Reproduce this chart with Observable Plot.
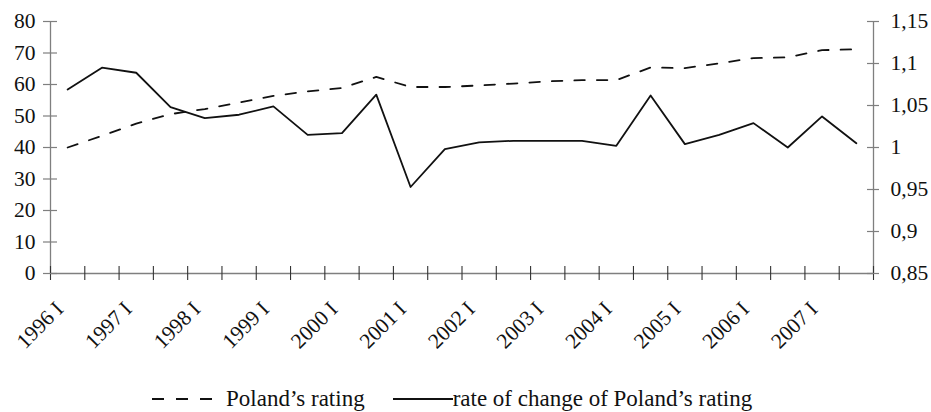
<!DOCTYPE html>
<html>
<head>
<meta charset="utf-8">
<script src="https://cdn.jsdelivr.net/npm/d3@7"></script>
<script src="https://cdn.jsdelivr.net/npm/@observablehq/plot@0.6"></script>
<style>
  html, body { margin: 0; padding: 0; background: #fff; }
  body { font-family: "Liberation Serif", "Times New Roman", "DejaVu Serif", serif; color: #111; }
  #chart svg { display: block; }
  #legend { display: flex; align-items: center; height: 26px; margin-top: 26px; padding-left: 152px;
            font-size: 23px; white-space: nowrap; color: #111; }
  #legend svg { display: block; flex: none; }
</style>
</head>
<body>
<div id="chart"></div>
<div id="legend">
  <svg width="60" height="10"><line x1="0" y1="5" x2="60" y2="5" stroke="#111" stroke-width="1.8" stroke-dasharray="12,12"/></svg>
  <span style="margin-left:14px">Poland’s rating</span>
  <svg width="60" height="10" style="margin-left:28px"><line x1="0" y1="5" x2="60" y2="5" stroke="#111" stroke-width="1.8"/></svg>
  <span>rate of change of Poland’s rating</span>
</div>
<script>
// Half-year periods
const periods = [
  "1996 I","1996 II","1997 I","1997 II","1998 I","1998 II","1999 I","1999 II",
  "2000 I","2000 II","2001 I","2001 II","2002 I","2002 II","2003 I","2003 II",
  "2004 I","2004 II","2005 I","2005 II","2006 I","2006 II","2007 I","2007 II"
];
// Poland's rating (left axis)
const rating = [
  40.0, 43.7, 47.6, 50.6, 52.2, 54.3, 56.4, 57.8,
  58.9, 62.4, 59.2, 59.2, 59.7, 60.3, 61.0, 61.4,
  61.4, 65.4, 65.2, 66.7, 68.4, 68.6, 70.9, 71.2
];
// rate of change of Poland's rating (right axis)
const rateOfChange = [
  1.069, 1.095, 1.089, 1.048, 1.035, 1.039, 1.049, 1.015,
  1.017, 1.063, 0.953, 0.998, 1.006, 1.008, 1.008, 1.008,
  1.002, 1.062, 1.004, 1.015, 1.029, 1.000, 1.037, 1.005
];
const leftTicks = [0, 10, 20, 30, 40, 50, 60, 70, 80];
const rightTicks = [0.85, 0.9, 0.95, 1, 1.05, 1.1, 1.15];
const xTickLabels = ["1996 I","1997 I","1998 I","1999 I","2000 I","2001 I","2002 I","2003 I","2004 I","2005 I","2006 I","2007 I"];

const leftMin = 0, leftMax = 80, rightMin = 0.85, rightMax = 1.15;
const toLeft = r => leftMin + (r - rightMin) / (rightMax - rightMin) * (leftMax - leftMin);
const fromLeft = v => rightMin + (v - leftMin) / (leftMax - leftMin) * (rightMax - rightMin);
const fmtComma = v => String(+(+v).toFixed(2)).replace(".", ",");

const n = periods.length;
const rows = periods.map((p, i) => ({period: p, idx: i + 0.5, rating: rating[i], rate: toLeft(rateOfChange[i])}));
const bounds = d3.range(n + 1);
const labelRows = xTickLabels.map(l => ({label: l, idx: periods.indexOf(l) + 0.5}));

const chart = Plot.plot({
  width: 931,
  height: 360,
  marginTop: 21,
  marginBottom: 87,
  marginLeft: 50,
  marginRight: 58,
  style: {fontFamily: "'Liberation Serif', 'Times New Roman', 'DejaVu Serif', serif", fontSize: "21.5px", color: "#111", background: "white", overflow: "visible"},
  x: {domain: [0, n], axis: null},
  y: {domain: [leftMin, leftMax]},
  marks: [
    // axis lines
    Plot.ruleY([0], {stroke: "#7f7f7f", strokeWidth: 1.3}),
    Plot.ruleX([0, n], {stroke: "#7f7f7f", strokeWidth: 1.3}),
    // x tick marks at period boundaries (crossing the axis)
    Plot.ruleX(bounds, {x: d => d, y1: 0, y2: 0, insetTop: -7, insetBottom: -7, stroke: "#333", strokeWidth: 1.1}),
    // left y tick marks
    Plot.ruleY(leftTicks, {y: d => d, x1: 0, x2: 0, insetLeft: -7, insetRight: -7, stroke: "#7f7f7f", strokeWidth: 1.2}),
    // right y tick marks
    Plot.ruleY(rightTicks, {y: d => toLeft(d), x1: n, x2: n, insetLeft: -6, insetRight: -6, stroke: "#7f7f7f", strokeWidth: 1.2}),
    // left axis labels
    Plot.axisY(leftTicks, {anchor: "left", tickSize: 0, tickPadding: 15, tickFormat: d => String(d)}),
    // right axis labels
    Plot.axisY(rightTicks.map(toLeft), {anchor: "right", tickSize: 0, tickPadding: 17, tickFormat: v => fmtComma(fromLeft(v))}),
    // x labels (rotated)
    Plot.text(labelRows, {x: "idx", y: 0, text: "label", rotate: -45, textAnchor: "end", dx: -8, dy: 32, fill: "#111"}),
    // data lines
    Plot.line(rows, {x: "idx", y: "rating", stroke: "#111", strokeWidth: 1.8, strokeDasharray: "10.5,12"}),
    Plot.line(rows, {x: "idx", y: "rate", stroke: "#111", strokeWidth: 1.8})
  ]
});
document.getElementById("chart").appendChild(chart);
</script>
</body>
</html>
